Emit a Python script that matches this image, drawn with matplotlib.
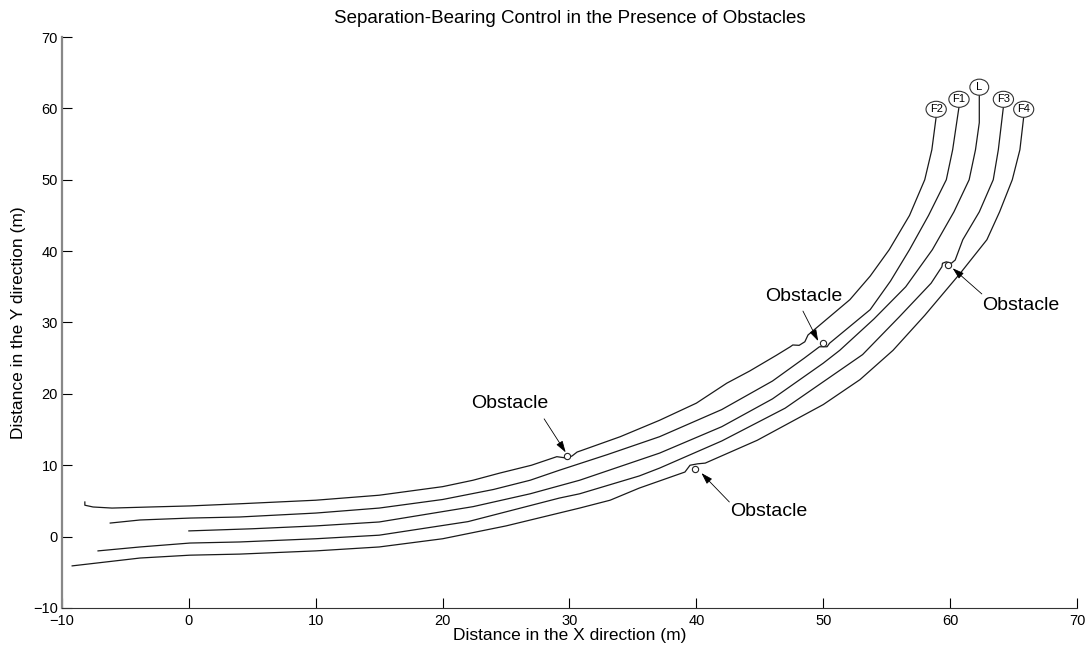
import matplotlib
matplotlib.use("Agg")
import matplotlib.pyplot as plt

plt.rcParams["font.family"] = ["Liberation Sans", "DejaVu Sans"]

# Trajectories (x, y in metres)
f2_x = [-8.2, -8.2, -7.55, -6.06, -3.07, 0.09, 4.0, 10.0, 15.0, 20.0, 22.4, 24.5, 27.0, 29.0, 29.4, 29.8, 30.2, 30.6, 31.0, 34.0, 37.1, 40.0, 42.4, 44.2, 46.3, 47.4, 47.6, 48.1, 48.55, 48.8, 49.1, 52.1, 53.7, 55.2, 56.8, 58.0, 58.56, 58.9]
f2_y = [4.85, 4.4, 4.15, 4.0, 4.15, 4.3, 4.6, 5.1, 5.8, 7.0, 7.9, 8.9, 10.0, 11.2, 11.1, 11.0, 11.3, 11.85, 12.1, 14.0, 16.3, 18.7, 21.5, 23.2, 25.4, 26.6, 26.85, 26.8, 27.3, 28.25, 28.7, 33.2, 36.5, 40.2, 45.0, 50.0, 54.2, 58.8]

f1_x = [-6.2, -3.85, 0.1, 4.0, 10.0, 15.0, 20.0, 24.0, 26.9, 29.2, 33.0, 37.1, 42.0, 46.0, 48.5, 49.7, 50.3, 50.5, 53.7, 55.3, 56.8, 58.3, 59.7, 60.2, 60.7]
f1_y = [1.9, 2.33, 2.6, 2.75, 3.3, 4.0, 5.2, 6.6, 7.9, 9.3, 11.5, 14.0, 17.8, 21.8, 25.0, 26.6, 26.6, 27.1, 31.8, 35.8, 40.2, 45.0, 50.0, 54.2, 60.2]

l_x = [0.0, 5.0, 10.0, 15.0, 22.4, 26.9, 30.8, 37.1, 42.0, 46.0, 50.0, 51.3, 54.0, 56.5, 58.6, 60.3, 61.5, 62.0, 62.3, 62.3]
l_y = [0.8, 1.1, 1.5, 2.05, 4.2, 6.0, 7.9, 11.7, 15.4, 19.3, 24.3, 26.1, 30.5, 35.0, 40.2, 45.5, 50.0, 54.2, 58.0, 61.9]

f3_x = [-7.16, -3.85, 0.09, 4.0, 10.0, 15.0, 22.0, 29.2, 30.8, 35.5, 37.1, 42.0, 47.0, 53.1, 56.0, 58.5, 59.35, 59.4, 59.7, 60.1, 60.4, 61.0, 62.3, 63.4, 63.8, 64.2]
f3_y = [-2.0, -1.45, -0.9, -0.75, -0.3, 0.2, 2.1, 5.4, 6.0, 8.5, 9.6, 13.4, 18.0, 25.5, 30.8, 35.5, 37.8, 38.3, 38.5, 38.3, 38.75, 41.6, 45.5, 50.0, 54.2, 60.2]

f4_x = [-9.2, -3.85, 0.09, 4.0, 10.0, 15.0, 20.0, 25.0, 30.8, 33.2, 35.5, 39.1, 39.5, 40.1, 40.7, 44.8, 50.0, 52.9, 55.5, 58.0, 60.8, 62.9, 63.9, 64.9, 65.5, 65.8]
f4_y = [-4.1, -3.0, -2.6, -2.45, -2.0, -1.45, -0.3, 1.5, 4.0, 5.1, 6.8, 9.05, 10.0, 10.2, 10.3, 13.5, 18.5, 22.0, 26.1, 31.0, 36.9, 41.6, 45.5, 50.0, 54.2, 58.8]

paths = {"F2": (f2_x, f2_y), "F1": (f1_x, f1_y), "L": (l_x, l_y),
         "F3": (f3_x, f3_y), "F4": (f4_x, f4_y)}

# Obstacles, their labels and the arrows pointing at them
obs_x = [29.8, 50.0, 39.9, 59.8]
obs_y = [11.3, 27.1, 9.5, 38.1]
text_x = [25.3, 48.5, 45.7, 65.6]
text_y = [18.6, 33.7, 3.45, 32.45]
tail_x = [28.0, 48.4, 62.5, 42.6]
tail_y = [16.5, 31.6, 34.0, 4.85]
head_x = [29.7, 49.6, 60.2, 40.4]
head_y = [11.8, 27.4, 37.6, 8.9]

fig = plt.figure(figsize=(10.86, 6.47), dpi=100)
ax = fig.add_axes([0.0571, 0.0603, 0.9346, 0.8825])

for name, (px, py) in paths.items():
    ax.plot(px, py, color="#1a1a1a", linewidth=0.9)
    label = " L " if name == "L" else name
    ax.annotate(label, (px[-1], py[-1]), xytext=(0, 5.5), textcoords="offset points",
                ha="center", va="center", fontsize=8,
                bbox=dict(boxstyle="ellipse,pad=0.06", fc="white", ec="#333333", lw=0.8))

ax.plot(obs_x, obs_y, "o", markersize=4.5, markerfacecolor="white",
        markeredgecolor="#222222", markeredgewidth=0.8, linestyle="none")

for tx, ty in zip(text_x, text_y):
    ax.text(tx, ty, "Obstacle", ha="center", va="center", fontsize=14)

for hx, hy, sx, sy in zip(head_x, head_y, tail_x, tail_y):
    ax.annotate("", (hx, hy), xytext=(sx, sy),
                arrowprops=dict(arrowstyle="-|>,head_length=0.7,head_width=0.22",
                                color="black", lw=0.6, shrinkA=0, shrinkB=0))

ax.set_xlim(-10, 70)
ax.set_ylim(-10, 70)
ax.set_xticks(range(-10, 71, 10))
ax.set_yticks(range(-10, 71, 10))
ax.spines["top"].set_visible(False)
ax.spines["right"].set_visible(False)
ax.spines["left"].set_color("#888888")
ax.spines["left"].set_linewidth(1.6)
ax.spines["bottom"].set_color("#333333")
ax.tick_params(direction="in", length=7, width=0.8, labelsize=10.5)
ax.tick_params(axis="x", pad=4)
ax.tick_params(axis="y", pad=3)

ax.set_title("Separation-Bearing Control in the Presence of Obstacles", fontsize=13.5, pad=10)
ax.set_xlabel("Distance in the X direction (m)", fontsize=12.5, labelpad=0)
ax.set_ylabel("Distance in the Y direction (m)", fontsize=12.5, labelpad=5)

fig.savefig("out.png", dpi=100)
